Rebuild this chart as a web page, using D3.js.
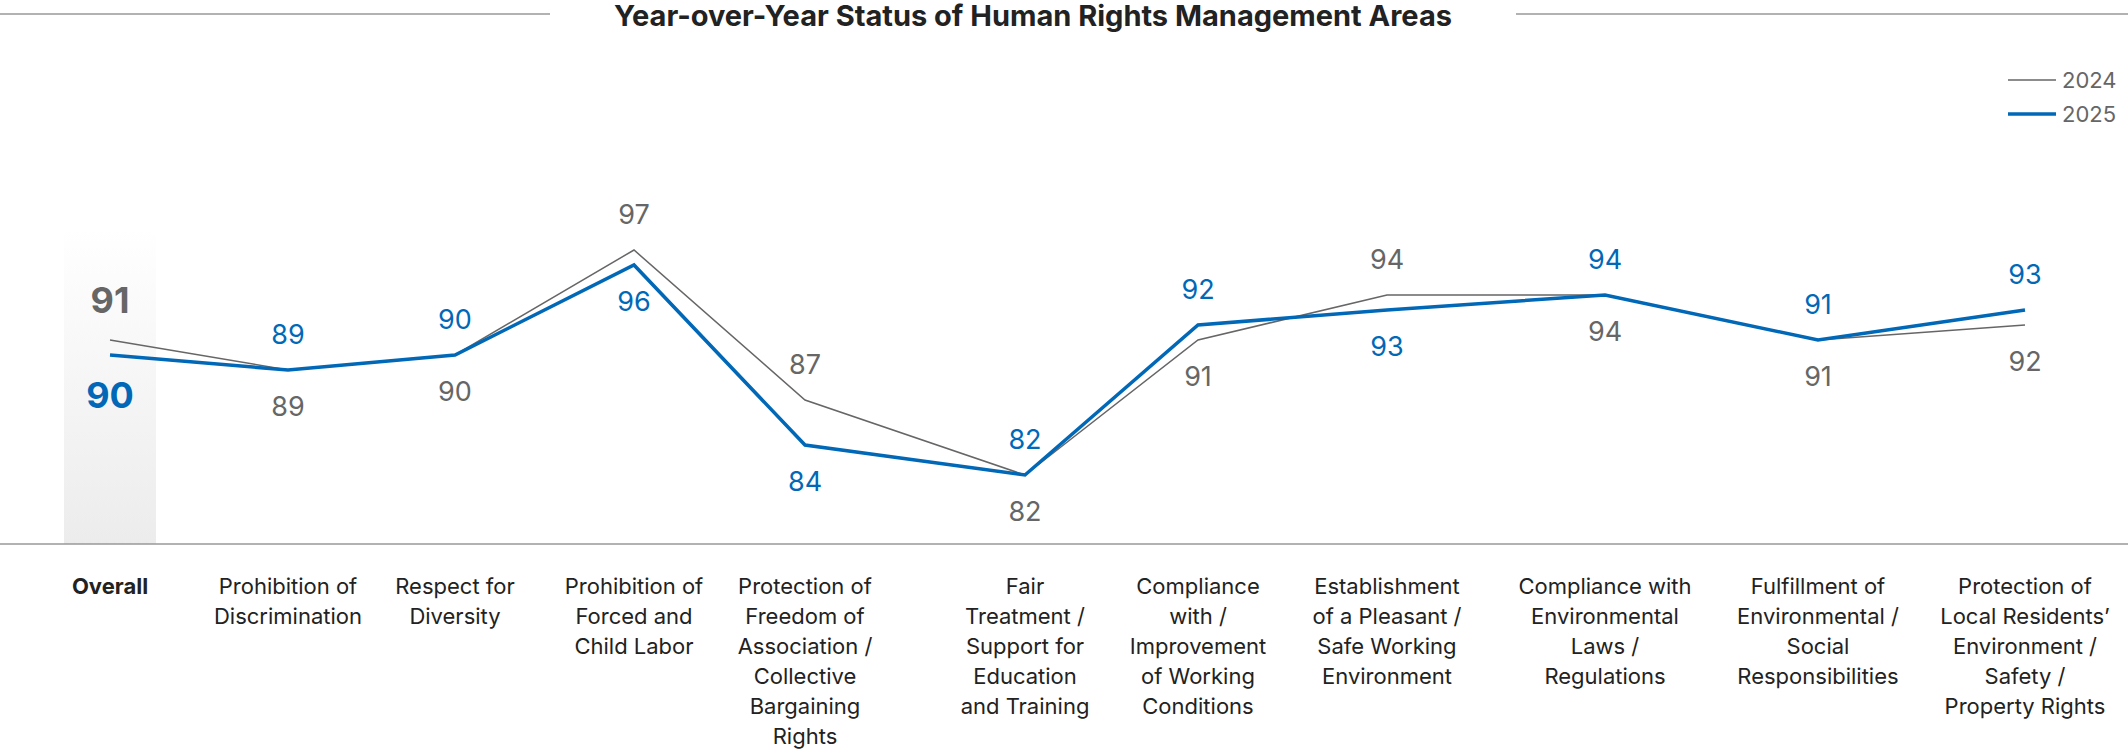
<!DOCTYPE html>
<html><head><meta charset="utf-8">
<script src="https://cdn.jsdelivr.net/npm/d3@7.9.0/dist/d3.min.js"></script>
<style>body{margin:0;background:#fff;font-family:Inter,Roboto,"Noto Sans",sans-serif}</style>
</head><body><div id="chart"></div>
<script>
const categories = [
  ["Overall"],
  ["Prohibition of", "Discrimination"],
  ["Respect for", "Diversity"],
  ["Prohibition of", "Forced and", "Child Labor"],
  ["Protection of", "Freedom of", "Association /", "Collective", "Bargaining", "Rights"],
  ["Fair", "Treatment /", "Support for", "Education", "and Training"],
  ["Compliance", "with /", "Improvement", "of Working", "Conditions"],
  ["Establishment", "of a Pleasant /", "Safe Working", "Environment"],
  ["Compliance with", "Environmental", "Laws /", "Regulations"],
  ["Fulfillment of", "Environmental /", "Social", "Responsibilities"],
  ["Protection of", "Local Residents’", "Environment /", "Safety /", "Property Rights"]
];
const values2024 = [91, 89, 90, 97, 87, 82, 91, 94, 94, 91, 92];
const values2025 = [90, 89, 90, 96, 84, 82, 92, 93, 94, 91, 93];
// label placement: -1 above, +1 below
const pos2024 = [-1, 1, 1, -1, -1, 1, 1, -1, 1, 1, 1];
const pos2025 = [1, -1, -1, 1, 1, -1, -1, 1, -1, -1, -1];
const xPositions = [110, 288, 455, 634, 805, 1025, 1198, 1387, 1605, 1818, 2025];

const W = 2128, H = 750, baseY = 544;
const grey = "#666666", blue = "#0068b7";
const svg = d3.select("#chart").append("svg").attr("width", W).attr("height", H);

const x = d3.scaleOrdinal().domain(d3.range(categories.length)).range(xPositions);
const y = d3.scaleLinear().domain([77.4, 97]).range([baseY, 250]);

// title with side rules
svg.append("line").attr("x1", 0).attr("x2", 550).attr("y1", 14).attr("y2", 14).attr("stroke", "#999").attr("stroke-width", 1.5);
svg.append("line").attr("x1", 1516).attr("x2", W).attr("y1", 14).attr("y2", 14).attr("stroke", "#999").attr("stroke-width", 1.5);
svg.append("text").attr("x", 1033).attr("y", 15).attr("text-anchor", "middle")
  .attr("dominant-baseline", "central")
  .attr("font-size", 29).attr("font-weight", 700).attr("fill", "#222")
  .text("Year-over-Year Status of Human Rights Management Areas");

// overall highlight column
const grad = svg.append("defs").append("linearGradient").attr("id", "g").attr("x1", 0).attr("x2", 0).attr("y1", 0).attr("y2", 1);
grad.append("stop").attr("offset", "0%").attr("stop-color", "#fff");
grad.append("stop").attr("offset", "100%").attr("stop-color", "#ececec");
svg.append("rect").attr("x", x(0) - 46).attr("width", 92).attr("y", 228).attr("height", baseY - 228).attr("fill", "url(#g)");

// baseline
svg.append("line").attr("x1", 0).attr("x2", W).attr("y1", baseY).attr("y2", baseY).attr("stroke", "#999").attr("stroke-width", 1.5);

// legend
[["2024", grey, 1.5, 80], ["2025", blue, 3.5, 114]].forEach(([t, c, w, ly]) => {
  svg.append("line").attr("x1", 2008).attr("x2", 2056).attr("y1", ly).attr("y2", ly).attr("stroke", c).attr("stroke-width", w);
  svg.append("text").attr("x", 2062).attr("y", ly).attr("dominant-baseline", "central")
    .attr("font-size", 22).attr("fill", "#666").text(t);
});

const line = d3.line().x((d, i) => x(i)).y(d => y(d));
svg.append("path").datum(values2024).attr("d", line).attr("fill", "none").attr("stroke", grey).attr("stroke-width", 1.5);
svg.append("path").datum(values2025).attr("d", line).attr("fill", "none").attr("stroke", blue).attr("stroke-width", 3.5);

function labels(vals, pos, color) {
  svg.append("g").selectAll("text").data(vals).join("text")
    .attr("x", (d, i) => x(i))
    .attr("y", (d, i) => y(d) + pos[i] * (i === 0 ? 40 : 36))
    .attr("text-anchor", "middle").attr("dominant-baseline", "central")
    .attr("font-size", (d, i) => i === 0 ? 36 : 27)
    .attr("font-weight", (d, i) => i === 0 ? 700 : 400)
    .attr("fill", color).text(d => d);
}
labels(values2024, pos2024, grey);
labels(values2025, pos2025, blue);

// category labels
const cat = svg.append("g").selectAll("text").data(categories).join("text")
  .attr("x", (d, i) => x(i)).attr("y", 586).attr("text-anchor", "middle")
  .attr("dominant-baseline", "central").attr("font-size", 22).attr("fill", "#222")
  .attr("font-weight", (d, i) => i === 0 ? 700 : 400);
cat.selectAll("tspan").data(d => d).join("tspan")
  .attr("x", function () { return this.parentNode.getAttribute("x"); })
  .attr("dy", (d, j) => j === 0 ? 0 : 30).text(d => d);
</script></body></html>
